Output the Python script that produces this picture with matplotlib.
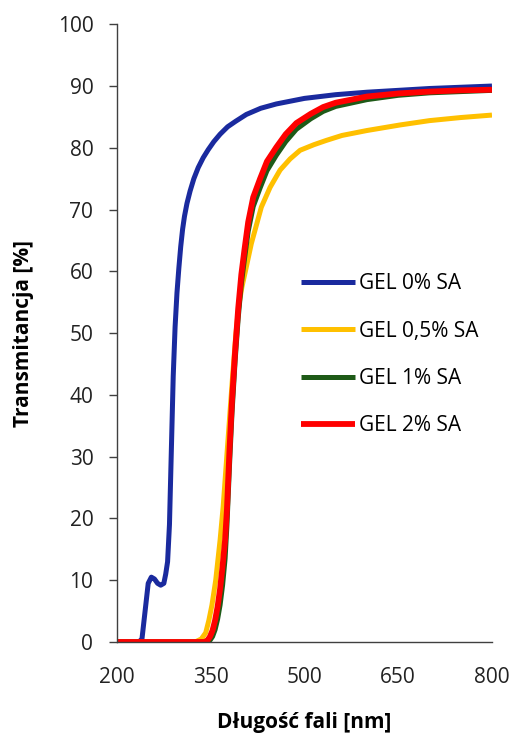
import matplotlib
matplotlib.use("Agg")
import matplotlib.pyplot as plt

plt.rcParams['font.family'] = ['Open Sans', 'DejaVu Sans']

wl_0 = [200, 235, 240, 245, 250, 255, 260, 265, 270, 275, 278, 281, 284, 287, 290, 293, 296, 299, 302, 305,
        308, 312, 317, 323, 330, 338, 346, 355, 365, 377, 390, 407, 430, 455, 480, 500, 550, 600, 650, 700,
        750, 800]
t_0 = [0, 0, 0.5, 5, 9.5, 10.5, 10.2, 9.5, 9.2, 9.5, 11, 13, 19, 31, 43, 51, 56.5, 60.5, 64, 66.8,
       68.9, 71, 73, 75, 76.8, 78.4, 79.7, 81, 82.2, 83.4, 84.3, 85.4, 86.4, 87.1, 87.6, 88.0, 88.6, 89.0,
       89.3, 89.6, 89.8, 90.0]

wl_05 = [200, 325, 335, 342, 347, 352, 358, 365, 370, 375, 380, 385, 390, 395, 400, 405, 415, 431, 445,
         461, 477, 493, 515, 535, 560, 600, 653, 700, 750, 800]
t_05 = [0, 0, 0.5, 1.5, 3.5, 6, 10, 16.5, 22, 29, 36, 43, 49.5, 54.5, 57.5, 59.8, 64.5, 70.4, 73.6,
        76.4, 78.2, 79.6, 80.5, 81.2, 82.0, 82.8, 83.7, 84.4, 84.9, 85.3]

wl_1 = [200, 344, 349, 353, 357, 361, 365, 369, 373, 376, 380, 384, 389, 394, 399, 404, 410, 418, 429,
        440, 455, 470, 487, 510, 530, 550, 600, 650, 700, 750, 800]
t_1 = [0, 0, 0.3, 0.9, 2, 3.7, 6, 9.2, 13.5, 19, 28.5, 37, 45.5, 52.5, 58, 62, 66.5, 70.5, 73.5,
       76.3, 78.8, 81, 83, 84.7, 85.9, 86.7, 87.8, 88.5, 88.9, 89.1, 89.3]

wl_2 = [200, 340, 345, 349, 353, 357, 361, 365, 369, 373, 376, 380, 384, 389, 394, 399, 404, 410, 418,
        429, 440, 455, 470, 487, 510, 530, 550, 600, 650, 700, 750, 800]
t_2 = [0, 0, 0.3, 0.9, 1.9, 3.5, 5.7, 8.6, 12.3, 16.5, 21.5, 31, 39, 47, 54, 59.5, 63.5, 68, 72,
       75, 77.8, 80.1, 82.2, 84, 85.5, 86.6, 87.3, 88.3, 88.8, 89.1, 89.3, 89.4]

labels = ["GEL 0% SA", "GEL 0,5% SA", "GEL 1% SA", "GEL 2% SA"]
colors = ["#1A2A9E", "#FFC000", "#1E5A17", "#FF0000"]

x_ticks = [200, 350, 500, 650, 800]
y_ticks = list(range(0, 101, 10))

fig = plt.figure(figsize=(5.13, 7.35), dpi=100)
ax = fig.add_axes([0.228, 0.1265, 0.731, 0.8405])

series = [(wl_0, t_0), (wl_05, t_05), (wl_1, t_1), (wl_2, t_2)]
widths = [3.6, 3.6, 3.6, 4.2]
for (x, y), lab, c, lw in zip(series, labels, colors, widths):
    ax.plot(x, y, color=c, lw=lw, label=lab, solid_capstyle='butt', solid_joinstyle='round')

ax.set_xlim(200, 800)
ax.set_ylim(0, 100)
ax.set_xticks(x_ticks)
ax.set_yticks(y_ticks)
for s in ['top', 'right']:
    ax.spines[s].set_visible(False)
for s in ['left', 'bottom']:
    ax.spines[s].set_color('#404040')
    ax.spines[s].set_linewidth(1.0)
ax.tick_params(axis='y', length=6, width=1, color='#404040', pad=11, labelsize=15, labelcolor='#222222')
ax.tick_params(axis='x', length=0, pad=18, labelsize=15, labelcolor='#222222')

ax.set_xlabel("Długość fali [nm]", fontsize=15, fontweight='bold', labelpad=17)
ax.set_ylabel("Transmitancja [%]", fontsize=15, fontweight='bold', labelpad=17)

leg = ax.legend(loc='upper left', bbox_to_anchor=(0.441, 0.627), frameon=False, fontsize=15,
                handlelength=2.6, handletextpad=0.2, labelspacing=1.26)

fig.savefig("out.png", dpi=100)
